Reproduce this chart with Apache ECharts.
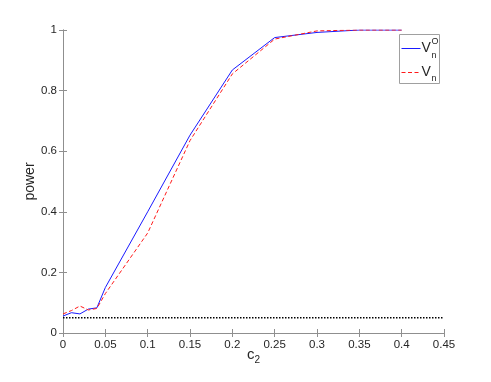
<!DOCTYPE html>
<html>
<head>
<meta charset="utf-8">
<script src="https://cdn.jsdelivr.net/npm/echarts@6/dist/echarts.min.js"></script>
<style>
  html, body { margin: 0; padding: 0; background: #fff; }
  #chart { width: 491px; height: 382px; }
</style>
</head>
<body>
<div id="chart"></div>
<script>
  // c2 values along the x axis
  const c2 = [0, 0.01, 0.02, 0.03, 0.04, 0.05, 0.1, 0.15, 0.2, 0.25, 0.3, 0.35, 0.4];
  // power for V_n^O (blue) and V_n (red dashed)
  const powerVnO = [0.056, 0.067, 0.063, 0.079, 0.083, 0.15, 0.40, 0.653, 0.868, 0.975, 0.992, 1.0, 1.0];
  const powerVn = [0.063, 0.074, 0.089, 0.076, 0.081, 0.13, 0.33, 0.635, 0.855, 0.97, 0.997, 1.0, 1.0];
  // nominal level line
  const levelX = [0, 0.45];
  const levelY = [0.05, 0.05];

  const axisColor = '#8f8f8f';
  const font = 'Liberation Sans, Arial, sans-serif';

  function pairs(xs, ys) {
    return xs.map((x, i) => [x, ys[i]]);
  }
  function fmt(v) {
    return String(+v.toFixed(2));
  }

  let chart = echarts.init(document.getElementById('chart'));
  chart.setOption({
    animation: false,
    grid: {left: 63, right: 47, top: 30, bottom: 49},
    xAxis: [{
      type: 'value',
      min: 0, max: 0.45, interval: 0.05,
      name: '{a|c}{b|2}',
      nameLocation: 'middle',
      nameGap: 12,
      nameMoveOverlap: false,
      nameTextStyle: {
        rich: {
          a: {fontSize: 15, fontFamily: font, color: '#262626'},
          b: {fontSize: 10, fontFamily: font, color: '#262626', padding: [10, 0, 0, 0]}
        }
      },
      axisLine: {lineStyle: {color: axisColor}},
      axisTick: {inside: true, length: 4, lineStyle: {color: axisColor}},
      axisLabel: {formatter: fmt, fontSize: 11.5, fontFamily: font, color: '#262626', margin: 6},
      splitLine: {show: false}
    }, {
      type: 'value', position: 'top',
      min: 0, max: 0.45, interval: 0.05,
      axisLine: {lineStyle: {color: axisColor}},
      axisTick: {inside: true, length: 4, lineStyle: {color: axisColor}},
      axisLabel: {show: false},
      splitLine: {show: false}
    }],
    yAxis: [{
      type: 'value',
      min: 0, max: 1, interval: 0.2,
      name: 'power',
      nameLocation: 'middle',
      nameGap: 26,
      nameMoveOverlap: false,
      nameTextStyle: {fontSize: 14, fontFamily: font, color: '#262626'},
      axisLine: {show: true, lineStyle: {color: axisColor}},
      axisTick: {show: true, inside: true, length: 4, lineStyle: {color: axisColor}},
      axisLabel: {formatter: fmt, fontSize: 11.5, fontFamily: font, color: '#262626', margin: 6},
      splitLine: {show: false}
    }, {
      type: 'value', position: 'right',
      min: 0, max: 1, interval: 0.2,
      axisLine: {show: true, lineStyle: {color: axisColor}},
      axisTick: {show: true, inside: true, length: 4, lineStyle: {color: axisColor}},
      axisLabel: {show: false},
      splitLine: {show: false}
    }],
    series: [
      {
        name: 'level',
        type: 'line',
        data: pairs(levelX, levelY),
        symbol: 'none',
        lineStyle: {color: '#000', width: 1.5, type: [1.5, 1.5]}
      },
      {
        name: 'VnO',
        type: 'line',
        data: pairs(c2, powerVnO),
        symbol: 'none',
        lineStyle: {color: '#1a1aff', width: 1}
      },
      {
        name: 'Vn',
        type: 'line',
        data: pairs(c2, powerVn),
        symbol: 'none',
        lineStyle: {color: '#ff1a1a', width: 1, type: [4, 2.5]}
      }
    ],
    graphic: [{
      type: 'group',
      left: 399, top: 34,
      children: [
        {type: 'rect', shape: {x: 0, y: 0, width: 40, height: 49},
          style: {fill: '#fff', stroke: '#a0a0a0', lineWidth: 1}},
        {type: 'line', shape: {x1: 2, y1: 14, x2: 21, y2: 14},
          style: {stroke: '#1a1aff', lineWidth: 1}},
        {type: 'text', x: 22, y: 7, style: {text: 'V', fontSize: 14, fontFamily: font, fill: '#262626'}},
        {type: 'text', x: 32, y: 3, style: {text: 'O', fontSize: 9, fontFamily: font, fill: '#262626'}},
        {type: 'text', x: 32, y: 17, style: {text: 'n', fontSize: 9, fontFamily: font, fill: '#262626'}},
        {type: 'line', shape: {x1: 2, y1: 38, x2: 21, y2: 38},
          style: {stroke: '#ff1a1a', lineWidth: 1, lineDash: [4, 2.5]}},
        {type: 'text', x: 22, y: 31, style: {text: 'V', fontSize: 14, fontFamily: font, fill: '#262626'}},
        {type: 'text', x: 32, y: 40, style: {text: 'n', fontSize: 9, fontFamily: font, fill: '#262626'}}
      ]
    }]
  });
</script>
</body>
</html>
